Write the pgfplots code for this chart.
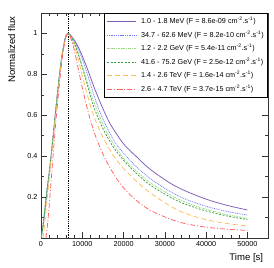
\documentclass[border=0pt]{standalone}
\usepackage{pgfplots}
\pgfplotsset{compat=1.18}
\usepackage{fontspec}
\setmainfont{Liberation Sans}
\definecolor{lnA}{RGB}{125,92,178}
\definecolor{lnB}{RGB}{115,115,255}
\definecolor{lnC}{RGB}{150,220,130}
\definecolor{lnD}{RGB}{60,160,60}
\definecolor{lnE}{RGB}{255,190,90}
\definecolor{lnF}{RGB}{255,95,95}
\begin{document}
\begin{tikzpicture}
\useasboundingbox (-41bp,-30bp) rectangle (233bp,238bp);
\begin{axis}[
  at={(0,0)}, anchor=south west, scale only axis,
  width=227bp, height=225bp,
  xmin=0, xmax=55000, ymin=0, ymax=1.1,
  axis line style={black!80, line width=0.6bp},
  tick align=inside,
  major tick length=5.5bp, minor tick length=2.8bp,
  every tick/.style={black!80, line width=0.5bp},
  xtick={0,10000,20000,30000,40000,50000}, minor x tick num=4,
  ytick={0.2,0.4,0.6,0.8,1}, minor ytick={0.1,0.3,0.5,0.7,0.9},
  scaled x ticks=false,
  /pgf/number format/assume math mode=true,
  x tick label style={/pgf/number format/set thousands separator={}},
  y tick label style={/pgf/number format/fixed, /pgf/number format/precision=1},
  tick label style={font=\fontsize{7.25}{8}\selectfont},
  xlabel={Time [s]}, ylabel={Normalized flux},
  label style={font=\fontsize{9.6}{11}\selectfont},
  xlabel style={at={(axis description cs:0.994,-0.09)}, anchor=east},
  ylabel style={at={(axis description cs:-0.129,1)}, anchor=east},
  legend cell align=left,
  legend style={at={(1,1)}, anchor=north east, line width=0.6bp,
    font=\fontsize{7.25}{8.7}\selectfont, inner xsep=2bp, inner ysep=3bp,
    row sep=2.6bp, column sep=2.7bp,
    nodes={inner sep=2bp, text height=5.3bp, text depth=1.6bp}},
  legend image code/.code={\draw[mark repeat=2,mark phase=2,#1] plot coordinates {(0bp,0bp) (14.5bp,0bp) (29bp,0bp)};},
]
\addplot[draw=black, dash pattern=on 0.8bp off 1bp, line width=0.5bp, forget plot] coordinates {(6500,0) (6500,1.1)};

\addlegendimage{draw=lnA, solid, line width=0.8bp}
\addlegendentry{1.0 - 1.8 MeV (F = 8.6e-09 cm\textsuperscript{-2}.s\textsuperscript{-1})}
\addlegendimage{draw=lnB, dash pattern=on 0.9bp off 0.9bp, line width=0.8bp}
\addlegendentry{34.7 - 62.6 MeV (F = 8.2e-10 cm\textsuperscript{-2}.s\textsuperscript{-1})}
\addlegendimage{draw=lnC, dash pattern=on 2.5bp off 1bp on 0.8bp off 1bp, line width=0.8bp}
\addlegendentry{1.2 - 2.2 GeV (F = 5.4e-11 cm\textsuperscript{-2}.s\textsuperscript{-1})}
\addlegendimage{draw=lnD, dash pattern=on 2bp off 1.5bp, line width=0.8bp}
\addlegendentry{41.6 - 75.2 GeV (F = 2.5e-12 cm\textsuperscript{-2}.s\textsuperscript{-1})}
\addlegendimage{draw=lnE, dash pattern=on 5bp off 3bp, line width=0.8bp}
\addlegendentry{1.4 - 2.6 TeV (F = 1.6e-14 cm\textsuperscript{-2}.s\textsuperscript{-1})}
\addlegendimage{draw=lnF, dash pattern=on 5bp off 2bp on 1bp off 2bp, line width=0.8bp}
\addlegendentry{2.6 - 4.7 TeV (F = 3.7e-15 cm\textsuperscript{-2}.s\textsuperscript{-1})}

\addplot[draw=lnA, solid, line width=0.75bp, smooth, tension=0.5, forget plot] coordinates {
(0,0) (500,0.06) (1000,0.15) (1500,0.24) (2000,0.32) (2500,0.41) (3000,0.51) (3500,0.61) (4000,0.71) (4500,0.80) (5000,0.88) (5500,0.94) (6000,0.985) (6500,1)
(7000,0.995) (8000,0.97) (9000,0.935) (10000,0.89) (11000,0.84) (12000,0.785) (13000,0.73) (14200,0.67) (15500,0.61) (17000,0.55) (20000,0.46) (23000,0.40) (26500,0.335) (31400,0.267) (35000,0.23) (40000,0.19) (45000,0.16) (50000,0.137)};

\addplot[draw=lnB, dash pattern=on 0.9bp off 0.9bp, line width=0.75bp, smooth, tension=0.5, forget plot] coordinates {
(0,0) (500,0.06) (1000,0.15) (1500,0.24) (2000,0.32) (2500,0.41) (3000,0.51) (3500,0.61) (4000,0.71) (4500,0.80) (5000,0.88) (5500,0.94) (6000,0.985) (6500,1)
(7000,0.993) (8000,0.965) (9000,0.925) (10000,0.875) (11000,0.815) (12000,0.752) (13200,0.675) (14500,0.605) (16000,0.54) (18000,0.465) (20440,0.405) (23000,0.35) (26500,0.29) (31400,0.226) (35000,0.19) (40000,0.155) (45000,0.13) (50000,0.112)};

\addplot[draw=lnC, dash pattern=on 2.5bp off 1bp on 0.8bp off 1bp, line width=0.75bp, smooth, tension=0.5, forget plot] coordinates {
(0,0) (500,0.06) (1000,0.15) (1500,0.24) (2000,0.32) (2500,0.41) (3000,0.51) (3500,0.61) (4000,0.71) (4500,0.80) (5000,0.88) (5500,0.94) (6000,0.985) (6500,1)
(7000,0.992) (8000,0.96) (9000,0.905) (10000,0.84) (11000,0.775) (12000,0.713) (13000,0.655) (15000,0.556) (17500,0.46) (20000,0.39) (23000,0.33) (26500,0.27) (31400,0.21) (35000,0.175) (40000,0.14) (45000,0.115) (50000,0.096)};

\addplot[draw=lnD, dash pattern=on 2bp off 1.5bp, line width=0.75bp, smooth, tension=0.5, forget plot] coordinates {
(0,0) (500,0.06) (1000,0.15) (1500,0.24) (2000,0.32) (2500,0.41) (3000,0.51) (3500,0.61) (4000,0.71) (4500,0.80) (5000,0.88) (5500,0.94) (6000,0.985) (6500,1)
(7000,0.99) (8000,0.955) (9000,0.9) (10000,0.835) (11000,0.765) (12170,0.68) (13000,0.63) (15000,0.535) (17500,0.445) (20000,0.38) (23000,0.318) (26500,0.258) (31400,0.199) (35000,0.165) (40000,0.132) (45000,0.108) (50000,0.09)};

\addplot[draw=lnE, dash pattern=on 5bp off 3bp, line width=0.75bp, smooth, tension=0.5, forget plot] coordinates {
(500,0) (1000,0.09) (1500,0.19) (2000,0.29) (2500,0.39) (3000,0.49) (3500,0.59) (4000,0.69) (4500,0.785) (5000,0.87) (5500,0.935) (6000,0.982) (6500,1)
(7000,0.988) (8000,0.945) (9000,0.875) (10000,0.795) (11000,0.715) (12000,0.645) (13000,0.585) (14350,0.52) (16000,0.455) (18000,0.39) (20000,0.34) (23000,0.28) (26500,0.22) (31400,0.155) (35000,0.12) (40000,0.09) (45000,0.071) (50000,0.059)};

\addplot[draw=lnF, dash pattern=on 5bp off 2bp on 1bp off 2bp, line width=0.75bp, smooth, tension=0.5, forget plot] coordinates {
(1200,0) (1600,0.07) (2000,0.16) (2500,0.29) (3000,0.42) (3500,0.545) (4000,0.655) (4500,0.76) (5000,0.855) (5500,0.93) (6000,0.98) (6500,1)
(7000,0.99) (8000,0.925) (9000,0.83) (10000,0.735) (11000,0.65) (12000,0.575) (13000,0.51) (14350,0.44) (16000,0.37) (18000,0.3) (20000,0.245) (23000,0.185) (26500,0.135) (31400,0.092) (35000,0.07) (40000,0.053) (45000,0.043) (50000,0.037)};
\end{axis}
\end{tikzpicture}
\end{document}
